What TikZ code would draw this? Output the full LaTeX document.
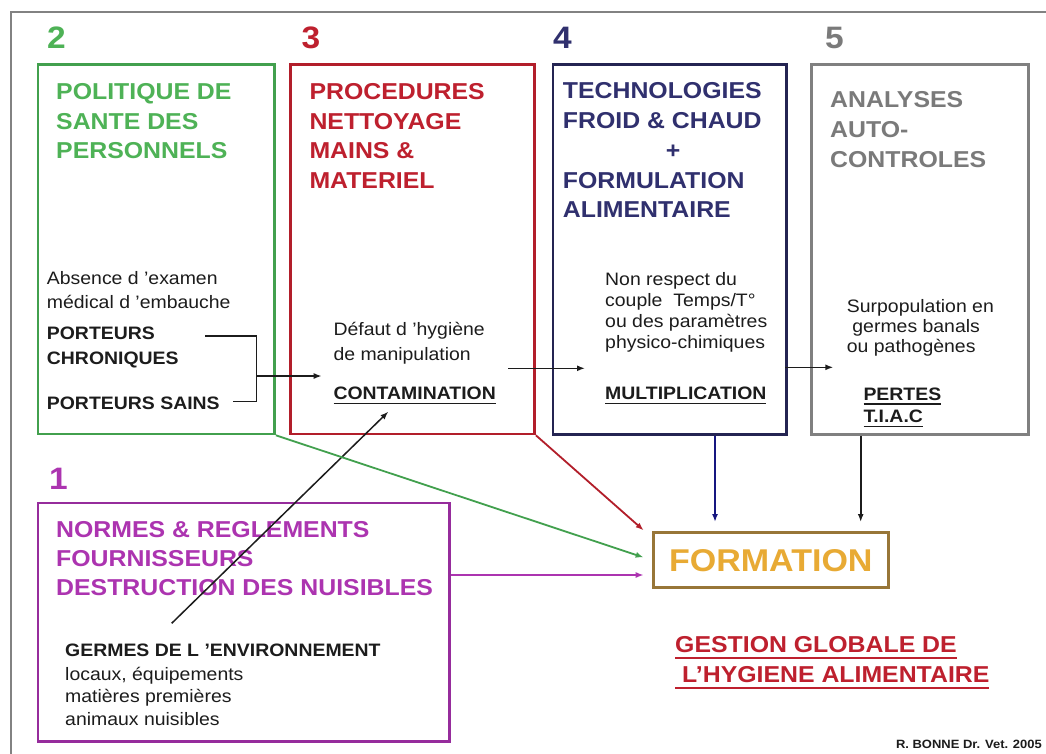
\documentclass[tikz,border=0pt]{standalone}
\usepackage{fontspec}
\setmainfont{Liberation Sans}[FakeStretch=1.08]
\usetikzlibrary{arrows.meta}

\definecolor{cgreen}{RGB}{78,178,86}
\definecolor{cgreenline}{RGB}{66,160,78}
\definecolor{cred}{RGB}{190,32,46}
\definecolor{credline}{RGB}{178,30,42}
\definecolor{cnavy}{RGB}{48,48,110}
\definecolor{cnavyline}{RGB}{36,36,82}
\definecolor{cblue}{RGB}{22,22,128}
\definecolor{cgrey}{RGB}{122,122,122}
\definecolor{cgreyline}{RGB}{128,128,128}
\definecolor{cpurple}{RGB}{172,52,176}
\definecolor{cpurpleline}{RGB}{150,44,156}
\definecolor{cgold}{RGB}{232,170,52}
\definecolor{cbrown}{RGB}{152,118,56}
\definecolor{cink}{RGB}{28,28,28}
\definecolor{cframe}{RGB}{130,130,130}

% underline with a fixed depth below the baseline
\newsavebox\ulbox
\newcommand{\ulx}[1]{\sbox\ulbox{#1}\rlap{\rule[-0.25em]{\wd\ulbox}{0.075em}}\usebox\ulbox}

\begin{document}
\begin{tikzpicture}[x=1pt,y=-1pt,
  panel/.style={draw=#1, line width=2.6pt, anchor=north west, inner sep=0},
  heading/.style={anchor=north west, inner sep=0, align=left,
    font=\bfseries\fontsize{23}{29.7}\selectfont},
  num/.style={anchor=north west, inner sep=0, font=\bfseries\fontsize{31}{34}\selectfont},
  body/.style={anchor=north west, inner sep=0, align=left, text=cink,
    font=\fontsize{18}{#1}\selectfont},
  bodyb/.style={anchor=north west, inner sep=0, align=left, text=cink,
    font=\bfseries\fontsize{18}{#1}\selectfont},
  conn/.style={line width=1.5pt, draw=cink},
  arr/.style={line width=1.5pt, draw=cink, -{Latex[length=8pt,width=6pt]}},
]
\useasboundingbox (0,0) rectangle (1046,753);
\fill[white] (0,0) rectangle (1046,753);
\clip (0,0) rectangle (1046,753);

% outer frame (runs off the right and bottom edges)
\draw[cframe, line width=1.8pt] (11,760) -- (11,12.3) -- (1060,12.3);

% panels
\node[panel=cgreenline, minimum width=236.6pt, minimum height=369.4pt] (g) at (36.7,63.3) {};
\node[panel=credline, minimum width=244pt, minimum height=369.4pt] (r) at (289.3,63.3) {};
\node[panel=cnavyline, minimum width=233.3pt, minimum height=370pt] (b) at (551.7,63.3) {};
\node[panel=cgreyline, minimum width=217pt, minimum height=370pt] (s) at (810,63.3) {};
\node[panel=cpurpleline, minimum width=411.6pt, minimum height=238.3pt] (p) at (36.7,501.7) {};
\node[draw=cbrown, line width=2.6pt, minimum width=235pt, minimum height=55pt, inner sep=0,
  text=cgold, font=\bfseries\fontsize{31.5}{36}\selectfont] (form) at (770.8,560.2) {FORMATION};

% panel numbers
\node[num, text=cgreen] (n2) at (47,27) {2};
\node[num, text=cred] (n3) at (301.5,27) {3};
\node[num, text=cnavy] (n4) at (553,27) {4};
\node[num, text=cgrey] (n5) at (825,27) {5};
\node[num, text=cpurple] (n1) at (49,467.5) {1};

% panel headings
\node[heading, text=cgreen] (gt) at (56,83.3) {POLITIQUE DE\\SANTE DES\\PERSONNELS};
\node[heading, text=cred] (rt) at (309.3,83.3) {PROCEDURES\\NETTOYAGE\\MAINS \&\\MATERIEL};
\node[heading, text=cnavy] (bt) at (562.7,82.7)
  {TECHNOLOGIES\\FROID \& CHAUD\\\hspace*{103pt}+\\FORMULATION\\ALIMENTAIRE};
\node[heading, text=cgrey, font=\bfseries\fontsize{23}{30}\selectfont] (st) at (830,91.7)
  {ANALYSES\\AUTO-\\CONTROLES};
\node[heading, text=cpurple, font=\bfseries\fontsize{23}{29.2}\selectfont] (pt) at (56,521)
  {NORMES \& REGLEMENTS\\FOURNISSEURS\\DESTRUCTION DES NUISIBLES};

% panel 2 contents
\node[body=23.3] (abs) at (46.7,271.7) {Absence d 'examen\\médical d 'embauche};
\node[bodyb=25] (chr) at (46.7,326.7) {PORTEURS\\CHRONIQUES};
\node[bodyb=25] (sai) at (46.7,396.7) {PORTEURS SAINS};

% panel 3 contents
\node[body=25] (def) at (333.3,321.7) {Défaut d 'hygiène\\de manipulation};
\node[bodyb=25] (con) at (333.3,386.7) {\ulx{CONTAMINATION}};

% panel 4 contents
\node[body=20.8] (tps) at (605,272.7)
  {Non respect du\\couple\ \ Temps/T°\\ou des paramètres\\physico-chimiques};
\node[bodyb=25] (mul) at (605,386.7) {\ulx{MULTIPLICATION}};

% panel 5 contents
\node[body=20] (sur) at (846.7,299.3)
  {Surpopulation en\\\hspace*{5.5pt}germes banals\\ou pathogènes};
\node[bodyb=22.7] (per) at (863.3,387.3) {\ulx{PERTES}\\\ulx{T.I.A.C}};

% panel 1 contents
\node[bodyb=25] (ger) at (65,643.3) {GERMES DE L 'ENVIRONNEMENT};
\node[body=22.5] (loc) at (65,666.7) {locaux, équipements\\matières premières\\animaux nuisibles};

% title and credit
\node[anchor=north west, inner sep=0, align=left, text=cred,
  font=\bfseries\fontsize{23}{30}\selectfont] (ges) at (675,636.7)
  {\ulx{GESTION GLOBALE DE}\\\ulx{\ L'HYGIENE ALIMENTAIRE}};
\node[anchor=north east, inner sep=0, text=cink,
  font=\bfseries\fontsize{12}{14}\selectfont] (cred) at (1042,740) {R. BONNE Dr. Vet. 2005};

% bracket joining the two carrier groups
\coordinate (br1) at (205,336);
\coordinate (br2) at (256.7,336);
\coordinate (br3) at (256.7,401.7);
\coordinate (br4) at (233.3,401.7);
\coordinate (brm) at (256.7,376);
\coordinate (cin) at (321.7,376);
\draw[conn] (br1) -- (br2) -- (br3) -- (br4);
\draw[arr] (brm) -- (cin);

% chain contamination -> multiplication -> losses
\coordinate (c1) at (508,368.3);
\coordinate (m1) at (585,368.3);
\draw[arr] (c1) -- (m1);
\coordinate (m2) at (785,367.3);
\coordinate (s1) at (833.3,367.3);
\draw[arr] (m2) -- (s1);

% environmental germs -> contamination
\coordinate (e1) at (171.7,623.3);
\coordinate (e2) at (388.3,411.7);
\draw[arr] (e1) -- (e2);

% everything converges on training
\draw[arr, draw=cgreenline, line width=1.8pt, shorten >=8.8pt] (g.south east) -- (form.west);
\draw[arr, draw=credline, line width=1.8pt, shorten >=11.1pt] (r.south east) -- ([yshift=-6.3pt]form.north west);
\coordinate (pin) at ([yshift=-14.8pt]form.west);
\draw[arr, draw=cpurple, line width=1.8pt, shorten >=8.3pt] (p.east |- pin) -- (pin);
\coordinate (bx) at (715,480);
\coordinate (sx) at (860.7,480);
\draw[arr, draw=cblue, line width=1.8pt, shorten >=9.4pt] (bx |- b.south) -- (bx |- form.north);
\draw[arr, line width=1.8pt, shorten >=9.4pt] (sx |- s.south) -- (sx |- form.north);
\end{tikzpicture}
\end{document}
